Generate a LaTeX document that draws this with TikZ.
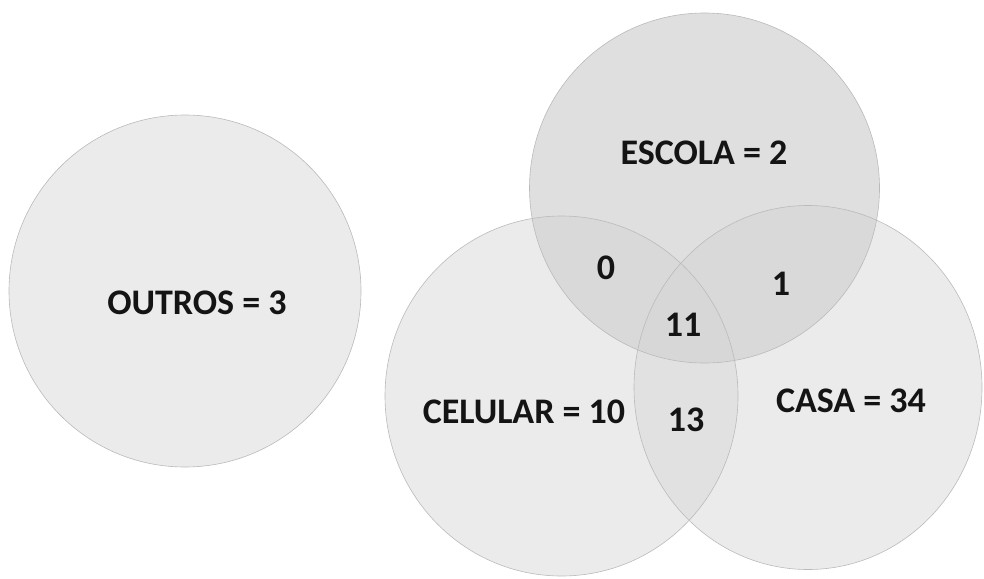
\documentclass[tikz,border=0pt]{standalone}
\usepackage{fontspec}
\setmainfont{Carlito}
\begin{document}
\begin{tikzpicture}[x=1pt,y=-1pt,
  setring/.style={draw=none, fill=black!15, fill opacity=0.53},
  topring/.style={draw=none, fill=black!17, fill opacity=0.75},
  rimline/.style={draw=black!27, line width=0.6pt},
  setlabel/.style={font=\bfseries\fontsize{36}{40}\selectfont, inner sep=0pt, text=black!92}]
  \useasboundingbox (0,0) rectangle (984,578);

  % set shapes
  \def\outrosset{(185,291) circle[radius=176]}
  \def\celularset{(561.5,396) ellipse[x radius=176.5, y radius=180]}
  \def\casaset{(808,387.5) ellipse[x radius=174, y radius=182]}
  \def\escolaset{(704.5,188) circle[radius=175]}

  % set fills
  \path[setring] \outrosset;
  \path[setring] \celularset;
  \path[setring] \casaset;
  \path[topring] \escolaset;

  % set outlines
  \draw[rimline] \outrosset;
  \draw[rimline] \celularset;
  \draw[rimline] \casaset;
  \draw[rimline] \escolaset;

  % labels
  \node[setlabel] (outros) at (197,303) {OUTROS = 3};
  \node[setlabel] (escola) at (704,153) {ESCOLA = 2};
  \node[setlabel] (celular) at (524,412) {CELULAR = 10};
  \node[setlabel] (casa) at (851,401) {CASA = 34};
  \node[setlabel] (ec) at (606,268) {0};
  \node[setlabel] (es) at (781,284) {1};
  \node[setlabel] (all) at (683,325) {11};
  \node[setlabel] (cc) at (686,420) {13};
\end{tikzpicture}
\end{document}
